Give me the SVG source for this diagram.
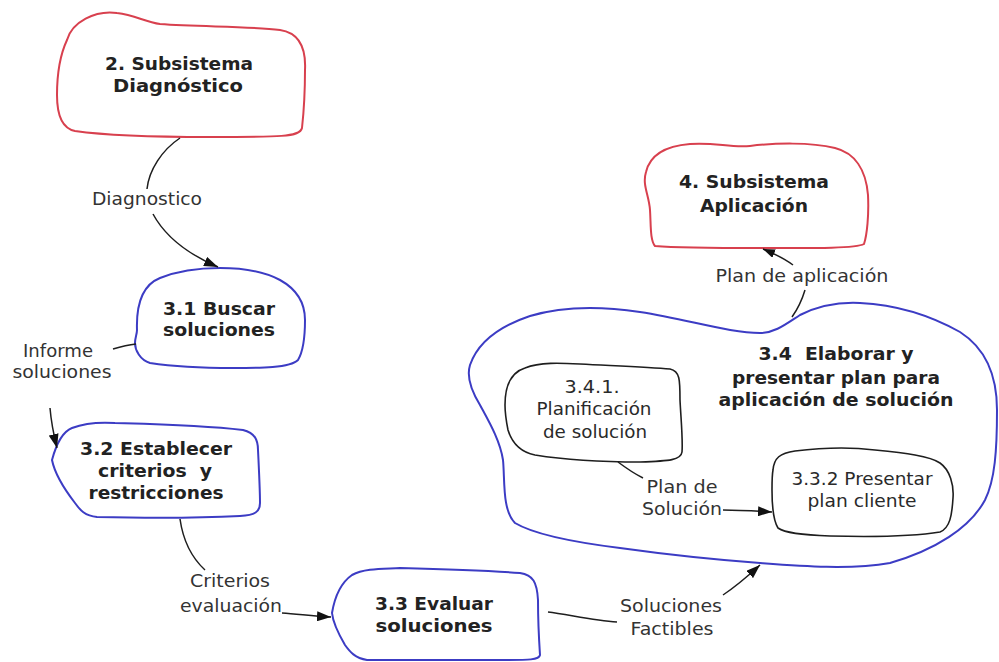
<svg xmlns="http://www.w3.org/2000/svg" width="999" height="662" viewBox="0 0 999 662">
  <style>
    .red { fill: #ffffff; stroke: #d8404e; stroke-width: 2; }
    .blue { fill: #ffffff; stroke: #3c3cc4; stroke-width: 2; }
    .blueOpen { fill: none; stroke: #3c3cc4; stroke-width: 2; }
    .plain { fill: #ffffff; stroke: #1e1e1e; stroke-width: 1.6; }
    .edge { fill: none; stroke: #1e1e1e; stroke-width: 1.5; }
    .title { font-family: "DejaVu Sans", Verdana, sans-serif; font-weight: bold; font-size: 18px; fill: #222222; text-anchor: middle; }
    .title17 { font-family: "DejaVu Sans", Verdana, sans-serif; font-weight: bold; font-size: 17px; fill: #222222; text-anchor: middle; }
    .body { font-family: "DejaVu Sans", Verdana, sans-serif; font-size: 18px; fill: #2a2a2a; text-anchor: middle; }
    .label { font-family: "DejaVu Sans", Verdana, sans-serif; font-size: 18px; fill: #333333; text-anchor: middle; }
  </style>
  <defs>
    <marker id="arrow" viewBox="0 0 14 10" refX="14" refY="5" markerWidth="14" markerHeight="10" markerUnits="userSpaceOnUse" orient="auto">
      <path d="M0,0 L14,5 L0,10 Z" fill="#111111"/>
    </marker>
    <marker id="arrowSmall" viewBox="0 0 12 9" refX="12" refY="4.5" markerWidth="12" markerHeight="9" markerUnits="userSpaceOnUse" orient="auto">
      <path d="M0,0 L12,4.5 L0,9 Z" fill="#111111"/>
    </marker>
  </defs>

  <rect x="0" y="0" width="999" height="662" fill="#ffffff"/>

  <!-- 2. Subsistema Diagnóstico -->
  <g id="node-diagnostico">
    <path class="red" d="M 67,40 C 72,22 95,10 117,13 C 135,15 145,22 160,24 C 200,27 250,26 280,30 C 300,33 306,50 305,70 C 305,90 304,110 302,128 C 300,137 280,137 210,137 C 150,137 110,136 75,131 C 60,128 57,110 57,95 C 57,75 60,55 67,40 Z"/>
    <text class="title17" x="179" y="70" textLength="148" lengthAdjust="spacingAndGlyphs">2. Subsistema</text>
    <text class="title17" x="178" y="92" textLength="130" lengthAdjust="spacingAndGlyphs">Diagnóstico</text>
  </g>

  <!-- 3.1 Buscar soluciones -->
  <g id="node-3-1">
    <path class="blue" d="M 137,330 C 136,300 145,284 160,278 C 180,270 200,268 220,268 C 245,268 265,272 280,280 C 298,290 305,305 305,320 C 305,335 304,350 298,360 C 290,368 260,368 233,368 C 200,368 170,366 150,363 C 140,360 135,350 135,343 C 135,338 137,334 137,330 Z"/>
    <text class="title" x="219" y="315" textLength="112" lengthAdjust="spacingAndGlyphs">3.1 Buscar</text>
    <text class="title" x="219" y="336" textLength="112" lengthAdjust="spacingAndGlyphs">soluciones</text>
  </g>

  <!-- 3.2 Establecer criterios y restricciones -->
  <g id="node-3-2">
    <path class="blue" d="M 52,460 C 56,445 62,432 72,428 C 85,423 100,422 115,423 C 150,424 200,425 243,430 C 255,433 258,440 258,450 C 259,470 260,490 260,503 C 260,512 255,515 240,516 C 200,518 140,518 97,517 C 85,516 80,510 75,503 C 65,490 55,475 52,460 Z"/>
    <text class="title" x="156" y="455" textLength="152" lengthAdjust="spacingAndGlyphs">3.2 Establecer</text>
    <text class="title" x="155" y="477" textLength="114" lengthAdjust="spacingAndGlyphs" xml:space="preserve">criterios  y</text>
    <text class="title" x="156" y="499" textLength="135" lengthAdjust="spacingAndGlyphs">restricciones</text>
  </g>

  <!-- 3.3 Evaluar soluciones -->
  <g id="node-3-3">
    <path class="blue" d="M 332,613 C 335,595 342,582 352,575 C 365,568 385,569 400,568 C 440,569 480,570 520,573 C 533,575 537,582 538,600 C 538,620 539,640 540,655 C 539,660 530,660 500,660 C 450,660 400,660 367,660 C 355,658 350,652 345,645 C 338,633 333,623 332,613 Z"/>
    <text class="title" x="434" y="610" textLength="118" lengthAdjust="spacingAndGlyphs">3.3 Evaluar</text>
    <text class="title" x="434" y="632" textLength="117" lengthAdjust="spacingAndGlyphs">soluciones</text>
  </g>

  <!-- 4. Subsistema Aplicación -->
  <g id="node-aplicacion">
    <path class="red" d="M 646,172 C 650,155 665,146 690,144 C 715,142 730,148 750,146 C 775,143 810,142 835,148 C 855,153 866,170 868,195 C 869,215 867,235 864,244 C 855,249 800,248 760,248 C 720,248 680,248 655,246 C 650,240 651,225 650,210 C 649,195 642,185 646,172 Z"/>
    <text class="title17" x="754" y="188" textLength="150" lengthAdjust="spacingAndGlyphs">4. Subsistema</text>
    <text class="title17" x="754" y="212" textLength="108" lengthAdjust="spacingAndGlyphs">Aplicación</text>
  </g>

  <!-- 3.4 Elaborar y presentar plan (container with two sub-processes) -->
  <g id="node-3-4">
    <path class="blue" d="M 470,365 C 478,342 500,326 530,316 C 560,307 600,306 640,312 C 690,320 730,333 760,333 C 775,333 786,324 800,315 C 820,305 840,302 860,303 C 900,305 935,318 960,332 C 985,348 997,375 997,410 C 997,450 995,480 985,500 C 970,528 935,550 890,563 C 850,570 800,566 760,563 C 720,560 670,555 620,548 C 580,543 535,535 515,523 C 502,510 505,480 503,460 C 500,440 488,420 480,405 C 472,392 466,378 470,365 Z"/>
    <text class="title" x="836" y="360" textLength="155" lengthAdjust="spacingAndGlyphs" xml:space="preserve">3.4  Elaborar y</text>
    <text class="title" x="836" y="384" textLength="208" lengthAdjust="spacingAndGlyphs">presentar plan para</text>
    <text class="title" x="836" y="406" textLength="235" lengthAdjust="spacingAndGlyphs">aplicación de solución</text>
  </g>

  <!-- 3.4.1 Planificación de solución -->
  <g id="node-3-4-1">
    <path class="plain" d="M 505,405 C 505,385 512,372 525,368 C 540,362 560,363 580,364 C 620,366 650,367 670,369 C 680,371 680,380 680,400 C 681,420 683,440 682,452 C 681,460 670,461 640,462 C 600,462 560,459 535,455 C 520,452 512,443 508,430 C 506,420 505,412 505,405 Z"/>
    <text class="body" x="592" y="393" textLength="55" lengthAdjust="spacingAndGlyphs">3.4.1.</text>
    <text class="body" x="594" y="415" textLength="115" lengthAdjust="spacingAndGlyphs">Planificación</text>
    <text class="body" x="595" y="438" textLength="104" lengthAdjust="spacingAndGlyphs">de solución</text>
  </g>

  <!-- 3.3.2 Presentar plan cliente -->
  <g id="node-3-3-2">
    <path class="plain" d="M 773,470 C 774,458 780,453 795,451 C 820,448 850,447 875,450 C 905,453 930,456 940,463 C 950,470 954,485 953,498 C 952,515 950,528 940,532 C 910,537 870,537 830,536 C 800,535 785,533 778,528 C 773,520 772,505 772,490 C 772,480 772,475 773,470 Z"/>
    <text class="body" x="862" y="485" textLength="141" lengthAdjust="spacingAndGlyphs">3.3.2 Presentar</text>
    <text class="body" x="862" y="507" textLength="109" lengthAdjust="spacingAndGlyphs">plan cliente</text>
  </g>

  <!-- data flows and their labels -->
  <g id="connectors">
    <!-- Diagnostico: 2 -> 3.1 -->
    <path class="edge" d="M 180,138 C 162,150 149,170 147,189"/>
    <path class="edge" d="M 153,214 C 166,238 190,255 218,267" marker-end="url(#arrow)"/>
    <text class="label" x="147" y="205" textLength="110" lengthAdjust="spacingAndGlyphs">Diagnostico</text>

    <!-- Informe soluciones: 3.1 -> 3.2 -->
    <path class="edge" d="M 113,349 C 120,347 128,345 136,344"/>
    <text class="label" x="58" y="357" textLength="70" lengthAdjust="spacingAndGlyphs">Informe</text>
    <text class="label" x="62" y="378" textLength="99" lengthAdjust="spacingAndGlyphs">soluciones</text>
    <path class="edge" d="M 50,408 C 51,420 53,432 57,448" marker-end="url(#arrow)"/>

    <!-- Criterios evaluación: 3.2 -> 3.3 -->
    <path class="edge" d="M 180,519 C 183,540 192,558 205,570"/>
    <text class="label" x="230" y="587" textLength="80" lengthAdjust="spacingAndGlyphs">Criterios</text>
    <text class="label" x="231" y="612" textLength="102" lengthAdjust="spacingAndGlyphs">evaluación</text>
    <path class="edge" d="M 282,613 C 298,614 312,616 331,617" marker-end="url(#arrow)"/>

    <!-- Soluciones Factibles: 3.3 -> 3.4 -->
    <path class="edge" d="M 548,612 C 566,614 592,620 617,622"/>
    <text class="label" x="671" y="612" textLength="102" lengthAdjust="spacingAndGlyphs">Soluciones</text>
    <text class="label" x="672" y="635" textLength="83" lengthAdjust="spacingAndGlyphs">Factibles</text>
    <path class="edge" d="M 723,595 C 735,587 748,576 760,565" marker-end="url(#arrow)"/>

    <!-- Plan de aplicación: 3.4 -> 4 -->
    <path class="edge" d="M 805,290 C 802,300 797,310 792,317"/>
    <text class="label" x="802" y="282" textLength="173" lengthAdjust="spacingAndGlyphs">Plan de aplicación</text>
    <path class="edge" d="M 793,265 C 785,259 775,254 763,249" marker-end="url(#arrowSmall)"/>

    <!-- Plan de Solución: 3.4.1 -> 3.3.2 -->
    <path class="edge" d="M 618,462 C 626,468 635,474 643,478"/>
    <text class="label" x="682" y="493" textLength="71" lengthAdjust="spacingAndGlyphs">Plan de</text>
    <text class="label" x="682" y="515" textLength="80" lengthAdjust="spacingAndGlyphs">Solución</text>
    <path class="edge" d="M 723,510 C 740,510 754,511 772,512" marker-end="url(#arrow)"/>
  </g>
</svg>
